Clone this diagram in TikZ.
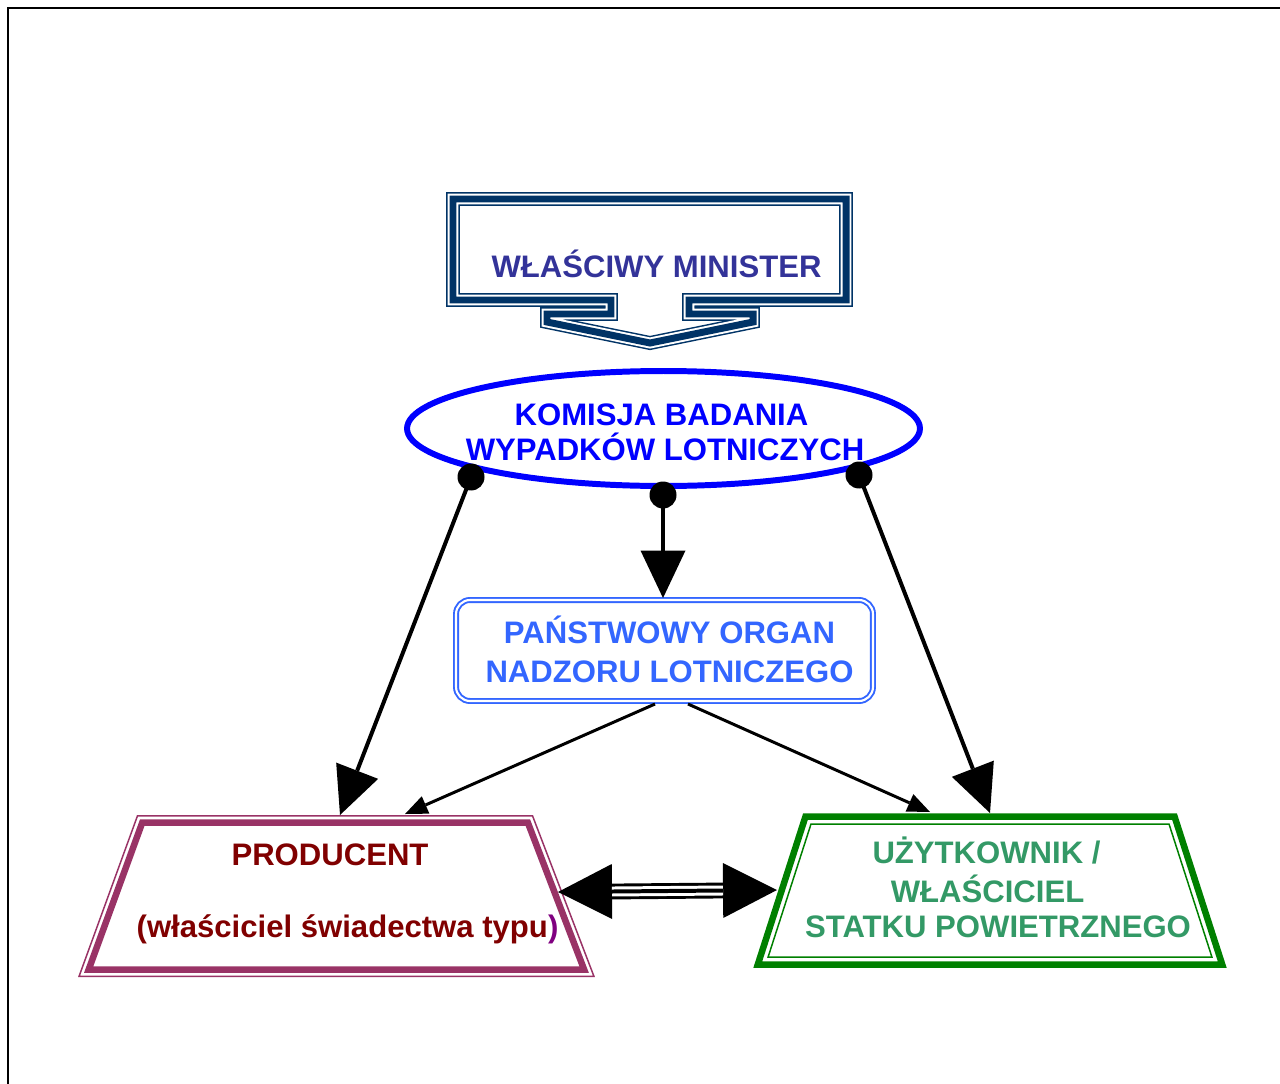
\documentclass[tikz,border=0pt]{standalone}
\usepackage{fontspec}
\setmainfont{Liberation Sans}
\usetikzlibrary{arrows.meta,shapes.geometric}
\definecolor{navy}{HTML}{003366}
\definecolor{minc}{HTML}{333399}
\definecolor{kblue}{HTML}{0000FF}
\definecolor{panc}{HTML}{3366FF}
\definecolor{prodc}{HTML}{800000}
\definecolor{purp}{HTML}{800080}
\definecolor{plum}{HTML}{993366}
\definecolor{grn}{HTML}{008000}
\definecolor{uzc}{HTML}{339966}
\begin{document}
\begin{tikzpicture}[x=0.02cm,y=-0.02cm,
  txt/.style={font=\fontsize{17.7}{20.5}\selectfont\bfseries, inner sep=0pt, anchor=base},
  dot/.style={circle, fill=black, minimum size=0.54cm, inner sep=0pt},
  bigarr/.style={line width=2.27pt, -{Triangle[length=0.95cm,width=0.9cm,line width=0pt]}},
  smallarr/.style={line width=1.7pt, -{Triangle[length=0.45cm,width=0.38cm,line width=0pt]}},
  dblarr/.style={line width=9pt, {Triangle[length=1.08cm,width=1.1cm,line width=0pt]}-{Triangle[length=1.08cm,width=1.1cm,line width=0pt]}},
  compound/.style={draw=navy, line width=7.94pt, line join=miter,
    postaction={draw=white, line width=6.24pt, line join=miter},
    postaction={draw=navy, line width=3.97pt, line join=miter}}
]
\useasboundingbox (0,0) rectangle (1280,1084);
\draw[line width=0.6pt] (8,1084) -- (8,8) -- (1280,8);

% minister callout
\path[compound] (453,199) -- (846,199) -- (846,300) -- (689,300) -- (689,314) -- (753,314)
  -- (753,322) -- (650,343) -- (547,322) -- (547,314) -- (611,314) -- (611,300) -- (453,300) -- cycle;
\node[txt, text=minc] (mintxt) at (656.5,277) {WŁAŚCIWY MINISTER};

% commission ellipse
\node[ellipse, draw=kblue, line width=3.4pt, minimum width=10.26cm, minimum height=2.3cm, inner sep=0pt] (kom) at (663.5,428.5) {};
\node[txt, text=kblue] (kom1) at (661.5,425) {KOMISJA BADANIA};
\node[txt, text=kblue] (kom2) at (665,460) {WYPADKÓW LOTNICZYCH};

% state authority box
\node[draw=panc, double, line width=1.1pt, double distance=1.2pt, rounded corners=0.28cm,
  minimum width=8.34cm, minimum height=2.02cm, inner sep=0pt] (pan) at (664.5,650.5) {};
\node[txt, text=panc] (pan1) at (669.5,643) {PAŃSTWOWY ORGAN};
\node[txt, text=panc] (pan2) at (669.5,682) {NADZORU LOTNICZEGO};

% producer trapezoid
\draw[plum, line width=0.85pt, line join=miter] (137.5,815.75) -- (532.5,815.75) -- (593.9,976.25) -- (79.1,976.25) -- cycle;
\draw[plum, line width=3.7pt, line join=miter] (142.3,822.5) -- (527.8,822.5) -- (584.1,969.5) -- (88.7,969.5) -- cycle;
\node[txt, text=prodc] (prod1) at (330,865) {PRODUCENT};
\node[txt, text=prodc] (prod2) at (347.5,937) {(właściciel świadectwa typu\textcolor{purp}{)}};

% user trapezoid
\draw[grn, line width=3.7pt, line join=miter] (805.5,816.5) -- (1174.5,816.5) -- (1222.2,964.5) -- (757.8,964.5) -- cycle;
\draw[grn, line width=0.85pt, line join=miter] (811,824) -- (1169,824) -- (1211.9,957) -- (768.1,957) -- cycle;
\node[txt, text=uzc] (uz1) at (986.5,863) {UŻYTKOWNIK /};
\node[txt, text=uzc] (uz2) at (987.5,902) {WŁAŚCICIEL};
\node[txt, text=uzc] (uz3) at (998,937) {STATKU POWIETRZNEGO};

% connector end points
\coordinate (tProd) at (340,815);
\coordinate (tPan) at (663,598);
\coordinate (tUz) at (990,813);
\coordinate (sL) at (655,704);
\coordinate (sR) at (688,704);
\coordinate (tProd2) at (405,814);
\coordinate (tUz2) at (930,812);
\coordinate (pL) at (558,892);
\coordinate (pR) at (777,890);

% dots
\node[dot] (d1) at (471,477) {};
\node[dot] (d2) at (663,495) {};
\node[dot] (d3) at (859,475) {};

\draw[bigarr] (d1.center) -- (tProd);
\draw[bigarr] (d2.center) -- (tPan);
\draw[bigarr] (d3.center) -- (tUz);

\draw[smallarr] (sL) -- (tProd2);
\draw[smallarr] (sR) -- (tUz2);

% double arrow
\draw[dblarr] (pL) -- (pR);
\draw[white, line width=5.67pt] (612,891.5) -- (723,890.5);
\draw[line width=2.27pt] (612,891.5) -- (723,890.5);
\end{tikzpicture}
\end{document}
